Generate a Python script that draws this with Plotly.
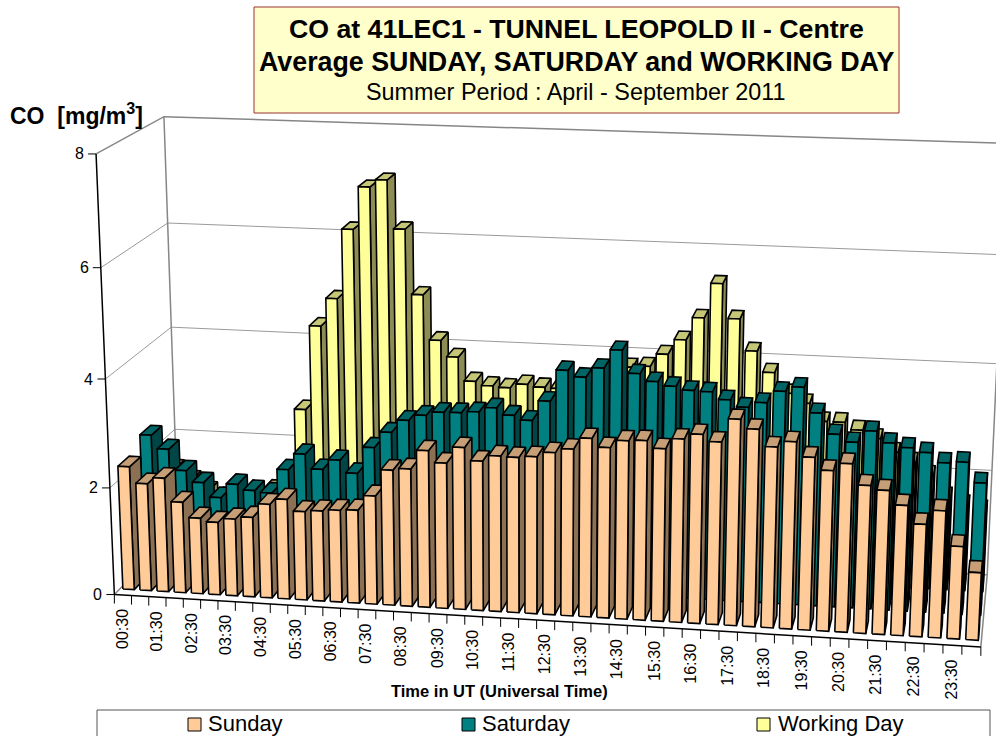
import numpy as np
import plotly.graph_objects as go

times = ["%02d:%02d" % ((30 * (i + 1)) // 60, (30 * (i + 1)) % 60) for i in range(48)]
tick_labels = times[0::2]
y_ticks = [0, 2, 4, 6, 8]

sunday = [2.31,2.01,2.13,1.70,1.42,1.36,1.44,1.49,1.75,1.86,1.65,1.68,1.71,1.73,2.01,2.50,2.54,2.89,2.68,2.98,2.75,2.86,2.85,2.88,2.97,3.05,3.26,3.11,3.25,3.27,3.14,3.33,3.43,3.31,3.73,3.57,3.27,3.38,3.12,2.90,3.04,2.67,2.60,2.35,2.03,2.29,1.67,1.22]
saturday = [2.53,2.28,1.89,1.68,1.41,1.68,1.58,1.55,2.01,2.32,2.05,2.24,2.01,2.51,2.81,3.05,3.16,3.23,3.24,3.27,3.36,3.24,3.16,3.53,4.11,4.00,4.18,4.52,4.11,3.98,3.91,3.85,3.84,3.71,3.59,3.69,3.91,4.00,3.55,3.18,3.05,3.27,3.07,3.00,2.93,2.76,2.79,2.43]
working = [1.5,1.3,1.1,1.0,0.9,1.0,1.2,1.3,2.79,4.39,4.92,6.22,7.01,7.15,6.26,5.06,4.22,3.92,3.48,3.41,3.39,3.47,3.43,3.42,3.5,3.6,3.73,3.88,3.91,4.15,4.43,4.85,5.49,4.86,4.28,3.9,3.53,3.36,3.04,3.04,2.91,2.77,2.53,2.36,2.13,1.74,1.61,1.53]

world = np.array([[0,0,0],[0,0,1],[0,1,0],[0,1,1],[1,0,0],[1,1,0],[1,1,1],[0,1,.25],[0,1,.75],[1,1,.25],[0,0,.25],[0,0,.75]],float)
img = np.array([[114,594],[96,154],[178.5,530],[163.7,116.7],[981,647],[987,575],[1007,143.5],[175,429],[167.7,222.7],[992,470],[110,488],[101,268]],float)/1000
A=[]
for (X,Y,Z),(u,v) in zip(world,img):
    A.append([X,Y,Z,1,0,0,0,0,-u*X,-u*Y,-u*Z,-u])
    A.append([0,0,0,0,X,Y,Z,1,-v*X,-v*Y,-v*Z,-v])
P=np.linalg.svd(np.array(A))[2][-1].reshape(3,4)
def proj(c,d,val):
    h=P@np.array([c/48,d,val/8,1.0])
    return float(h[0]/h[2]*1000),float(h[1]/h[2]*1000)
G=1/6
rows=[(0.0833,0.25),(0.4167,0.5833),(0.75,0.9167)]

fig=go.Figure()
def poly(pts,fill,lc="black",w=1.6):
    xs=[p[0] for p in pts]+[pts[0][0]]; ys=[p[1] for p in pts]+[pts[0][1]]
    fig.add_trace(go.Scatter(x=xs,y=ys,mode="lines",fill="toself",fillcolor=fill,line=dict(color=lc,width=w),hoverinfo="skip",showlegend=False))
def seg(pts,c="#868686",w=1.5):
    fig.add_trace(go.Scatter(x=[p[0] for p in pts],y=[p[1] for p in pts],mode="lines",line=dict(color=c,width=w),hoverinfo="skip",showlegend=False))
for v in y_ticks[1:4]:
    seg([proj(0,0,v),proj(0,1,v),proj(48,1,v)],"#9a9a9a",1)
seg([proj(0,0,8),proj(0,1,8),proj(48,1,8)])
seg([proj(0,1,0),proj(0,1,8)]); seg([proj(48,1,0),proj(48,1,8)])
seg([proj(0,0,0),proj(0,1,0),proj(48,1,0),proj(48,0,0)])
series=[(working,rows[2],"#FFFF99","#8C8C54","#C6C677"),(saturday,rows[1],"#008080","#004646","#006464"),(sunday,rows[0],"#FFCC99","#8C7054","#C69F77")]
for vals,(d0,d1),fc,sc,tc in series:
    for i,val in enumerate(vals):
        x0,x1=i+G,i+1-G
        poly([proj(x1,d0,0),proj(x1,d1,0),proj(x1,d1,val),proj(x1,d0,val)],sc)
        poly([proj(x0,d0,val),proj(x1,d0,val),proj(x1,d1,val),proj(x0,d1,val)],tc)
        poly([proj(x0,d0,0),proj(x1,d0,0),proj(x1,d0,val),proj(x0,d0,val)],fc)
seg([proj(0,0,0),proj(0,0,8)],"black",1.5)
seg([proj(0,0,0),proj(48,0,0)],"black",1.5)
ann=[]
for v in y_ticks:
    x,y=proj(0,0,v)
    seg([(x-8,y),(x,y)],"black",1)
    ann.append(dict(x=x-10,y=y,text=str(v),xanchor="right",yanchor="middle",showarrow=False,font=dict(size=16)))
for c in range(49):
    x,y=proj(c,0,0)
    seg([(x,y),(x,y+9)],"black",1)
for k,lab in enumerate(tick_labels):
    x,y=proj(2*k+.5,0,0)
    ann.append(dict(x=x-1,y=y+12,text=lab,textangle=-90,xanchor="center",yanchor="top",showarrow=False,font=dict(size=16)))
def txt(x,y,t,size,bold=False,anchor="center"):
    ann.append(dict(x=x,y=y,text="<b>%s</b>"%t if bold else t,xanchor=anchor,yanchor="middle",showarrow=False,font=dict(size=size)))
txt(576,29,"CO at 41LEC1 - TUNNEL LEOPOLD II - Centre",26.7,True)
txt(576,62,"Average SUNDAY, SATURDAY and WORKING DAY",26.8,True)
txt(576,92,"Summer Period : April - September 2011",23.4)
txt(8,114,"CO  [mg/m<sup>3</sup>]",23,True,"left")
txt(499,691,"Time in UT (Universal Time)",16.5,True)
shapes=[dict(type="rect",x0=254,x1=899,y0=7,y1=113,fillcolor="#FFFFCC",line=dict(color="#993333",width=1),layer="below"),
        dict(type="rect",x0=97,x1=990,y0=710,y1=760,fillcolor="white",line=dict(color="#555",width=1),layer="below")]
for sx,tx,name,col in [(188,206,"Sunday","#FFCC99"),(462,480,"Saturday","#008080"),(757,776,"Working Day","#FFFF99")]:
    shapes.append(dict(type="rect",x0=sx,x1=sx+13,y0=718,y1=731,fillcolor=col,line=dict(color="black",width=1)))
    txt(tx,723,name,22,False,"left")
fig.update_layout(width=996,height=736,margin=dict(l=0,r=0,t=0,b=0),plot_bgcolor="white",paper_bgcolor="white",
    font=dict(family="Liberation Sans, Arial, sans-serif",color="black"),showlegend=False,annotations=ann,shapes=shapes,
    xaxis=dict(range=[0,996],visible=False,fixedrange=True),yaxis=dict(range=[736,0],visible=False,fixedrange=True))
fig.write_html("out.html",config=dict(displayModeBar=False),post_script="document.body.style.margin='0';document.body.style.overflow='hidden';")
